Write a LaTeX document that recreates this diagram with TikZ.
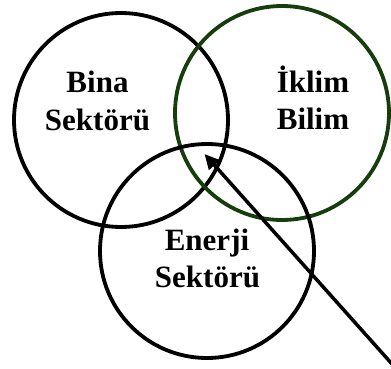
\documentclass[tikz,border=0pt]{standalone}
\usepackage{fontspec}
\setmainfont{Liberation Serif}
\usetikzlibrary{arrows.meta}
\definecolor{darkgreen}{RGB}{22,62,12}
\newcommand{\lblfont}{\fontsize{31pt}{37pt}\selectfont\bfseries}
\begin{document}
\begin{tikzpicture}[x=1pt,y=-1pt,
  ring/.style={circle,draw,line width=3.8pt,minimum size=214pt,inner sep=0pt},
  lbl/.style={inner sep=0pt,anchor=base,font=\lblfont}]
\useasboundingbox (0,0) rectangle (391,369);
\node[ring] (bina) at (121,120) {};
\node[ring,draw=darkgreen] (iklim) at (282,113) {};
\node[ring] (enerji) at (207,251) {};
\node[lbl] (tbina1) at (97.5,92.5) {Bina};
\node[lbl] (tbina2) at (97.5,130) {Sektörü};
\node[lbl] (tiklim1) at (313,92.5) {İklim};
\node[lbl] (tiklim2) at (313,129) {Bilim};
\node[lbl] (tenerji1) at (207,250) {Enerji};
\node[lbl] (tenerji2) at (207.5,287) {Sektörü};
\coordinate (tip) at (204.5,154);
\coordinate (tail) at (392,364);
\draw[line width=3.5pt,-{Triangle[length=15pt,width=14pt]}] (tail) -- (tip);
\end{tikzpicture}
\end{document}
